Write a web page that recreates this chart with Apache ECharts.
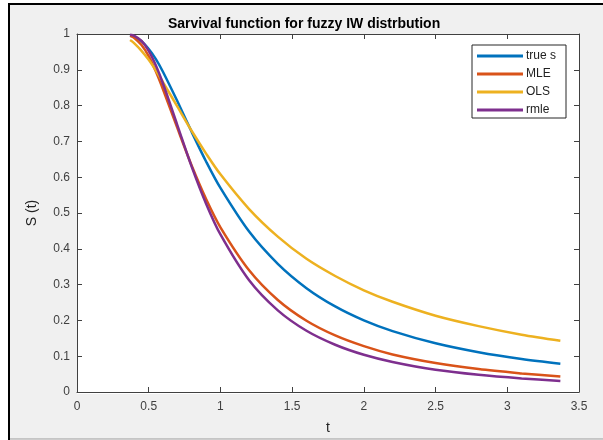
<!DOCTYPE html>
<html>
<head>
<meta charset="utf-8">
<script src="https://cdn.jsdelivr.net/npm/echarts@6/dist/echarts.min.js"></script>
<style>
html,body{margin:0;padding:0;background:#fff;}
#chart{width:603px;height:440px;}
</style>
</head>
<body>
<div id="chart"></div>
<script>
// ---- data ----
const tValues = [0.37, 0.4, 0.45, 0.5, 0.55, 0.6, 0.7, 0.8, 0.9, 1.0, 1.2, 1.4, 1.6, 1.8, 2.0, 2.2, 2.5, 2.8, 3.1, 3.37];
const trueS = [0.997, 0.992, 0.980, 0.958, 0.930, 0.894, 0.812, 0.726, 0.644, 0.570, 0.448, 0.358, 0.290, 0.239, 0.200, 0.170, 0.136, 0.111, 0.092, 0.079];
const mleS  = [0.995, 0.989, 0.969, 0.938, 0.895, 0.845, 0.737, 0.632, 0.539, 0.460, 0.340, 0.257, 0.199, 0.158, 0.128, 0.105, 0.081, 0.064, 0.052, 0.043];
const olsS  = [0.983, 0.974, 0.953, 0.928, 0.898, 0.865, 0.797, 0.729, 0.666, 0.608, 0.511, 0.434, 0.372, 0.324, 0.284, 0.252, 0.213, 0.184, 0.160, 0.143];
const rmleS = [0.998, 0.995, 0.981, 0.953, 0.912, 0.861, 0.745, 0.629, 0.526, 0.440, 0.312, 0.228, 0.171, 0.132, 0.104, 0.084, 0.062, 0.048, 0.038, 0.031];
const seriesNames = ['true s', 'MLE', 'OLS', 'rmle'];
const seriesColors = ['#0072BD', '#D95319', '#EDB120', '#7E2F8E'];
const titleText = 'Sarvival function for fuzzy IW distrbution';
const xName = 't';
const yName = 'S (t)';

const allSeries = [trueS, mleS, olsS, rmleS];
const FONT = "'Liberation Sans', Arial, Helvetica, sans-serif";
const AX = '#404040';

const GL = 77, GT = 34, GR = 24, GB = 46;

const chart = echarts.init(document.getElementById('chart'), null, {renderer: 'canvas'});
const option = {
  backgroundColor: '#ffffff',
  animation: false,
  graphic: [
    {type: 'rect', z: -10, silent: true, shape: {x: 10, y: 5, width: 593, height: 434}, style: {fill: '#F0F0F0'}},
    {type: 'rect', z: -9, silent: true, shape: {x: 8, y: 3, width: 2, height: 437}, style: {fill: '#000'}},
    {type: 'rect', z: -9, silent: true, shape: {x: 8, y: 3, width: 595, height: 2}, style: {fill: '#000'}},
    {type: 'rect', z: -9, silent: true, shape: {x: 10, y: 438.5, width: 593, height: 1}, style: {fill: '#9a9a9a'}},
    {type: 'rect', z: -8, silent: true, shape: {x: GL, y: GT, width: 603 - GL - GR, height: 440 - GT - GB}, style: {fill: '#fff'}}
  ],
  title: {
    text: titleText,
    left: 163, top: 12,
    textStyle: {fontFamily: FONT, fontSize: 14, fontWeight: 'bold', color: '#000'}
  },
  legend: {
    orient: 'vertical',
    left: 472, top: 45,
    padding: [4, 10, 1, 5],
    icon: 'rect',
    itemWidth: 46, itemHeight: 3, itemGap: 4,
    backgroundColor: '#fff',
    borderColor: '#262626', borderWidth: 1, borderRadius: 0,
    textStyle: {fontFamily: FONT, fontSize: 12, color: '#222', lineHeight: 14, padding: [0, 0, 0, -2]},
    data: seriesNames
  },
  grid: {
    left: GL, top: GT, right: GR, bottom: GB,
    show: false
  },
  xAxis: [{
    type: 'value', min: 0, max: 3.5, interval: 0.5,
    position: 'bottom',
    name: xName, nameLocation: 'middle', nameGap: 29,
    nameTextStyle: {fontFamily: FONT, fontSize: 14, color: '#222'},
    axisLine: {show: true, lineStyle: {color: AX, width: 1}},
    axisTick: {show: true, inside: true, length: 5, lineStyle: {color: AX}},
    axisLabel: {fontFamily: FONT, fontSize: 12, color: AX, margin: 9},
    splitLine: {show: false}
  }, {
    type: 'value', min: 0, max: 3.5, interval: 0.5,
    position: 'top',
    axisLine: {show: true, onZero: false, lineStyle: {color: AX, width: 1}},
    axisTick: {show: true, inside: true, length: 5, lineStyle: {color: AX}},
    axisLabel: {show: false},
    splitLine: {show: false}
  }],
  yAxis: [{
    type: 'value', min: 0, max: 1, interval: 0.1,
    position: 'left',
    name: yName, nameLocation: 'middle', nameGap: 38, nameRotate: 90,
    nameTextStyle: {fontFamily: FONT, fontSize: 14, color: '#222'},
    axisLine: {show: true, lineStyle: {color: AX, width: 1}},
    axisTick: {show: true, inside: true, length: 5, lineStyle: {color: AX}},
    axisLabel: {fontFamily: FONT, fontSize: 12, color: AX, margin: 7},
    splitLine: {show: false}
  }, {
    type: 'value', min: 0, max: 1, interval: 0.1,
    position: 'right',
    axisLine: {show: true, onZero: false, lineStyle: {color: AX, width: 1}},
    axisTick: {show: true, inside: true, length: 5, lineStyle: {color: AX}},
    axisLabel: {show: false},
    splitLine: {show: false}
  }],
  series: seriesNames.map((name, i) => ({
    name: name,
    type: 'line',
    xAxisIndex: 0, yAxisIndex: 0,
    data: tValues.map((t, k) => [t, allSeries[i][k]]),
    showSymbol: false, symbol: 'none',
    smooth: 0.3,
    clip: false,
    lineStyle: {color: seriesColors[i], width: 2.5},
    itemStyle: {color: seriesColors[i]},
    z: 3 + i
  }))
};
chart.setOption(option);
</script>
</body>
</html>
